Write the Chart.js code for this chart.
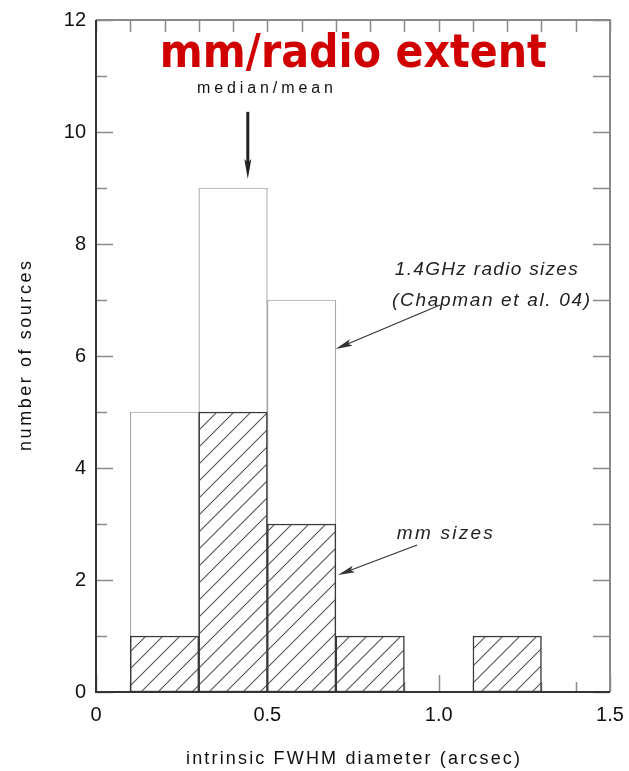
<!DOCTYPE html>
<html>
<head>
<meta charset="utf-8">
<script src="https://cdn.jsdelivr.net/npm/chart.js@4.4.1/dist/chart.umd.min.js"></script>
<style>
  html, body { margin: 0; padding: 0; background: #ffffff; }
  #wrap { width: 629px; height: 771px; }
</style>
</head>
<body>
<div id="wrap"><canvas id="c" width="629" height="771"></canvas></div>
<script>
// ---- data ----
const radioBinCenters = [0.2, 0.4, 0.6];
const radioCounts = [5, 9, 7];
const mmBinCenters = [0.2, 0.4, 0.6, 0.8, 1.2];
const mmCounts = [1, 5, 3, 1, 1];
const xTickValues = [0, 0.5, 1.0, 1.5];
const yTickValues = [0, 2, 4, 6, 8, 10, 12];
const medianValue = 0.443;

const titleText = 'mm/radio extent';
const xTitle = 'intrinsic FWHM diameter (arcsec)';
const yTitle = 'number of sources';
const radioLabel = ['1.4GHz radio sizes', '(Chapman et al. 04)'];
const mmLabel = 'mm sizes';

function makeHatch() {
  const s = 17;
  const c = document.createElement('canvas');
  c.width = s; c.height = s;
  const g = c.getContext('2d');
  g.fillStyle = '#ffffff';
  g.fillRect(0, 0, s, s);
  g.strokeStyle = '#555555';
  g.lineWidth = 1.1;
  g.beginPath();
  g.moveTo(-2, s + 2); g.lineTo(s + 2, -2);
  g.moveTo(-2, 2); g.lineTo(2, -2);
  g.moveTo(s - 2, s + 2); g.lineTo(s + 2, s - 2);
  g.stroke();
  return g.createPattern(c, 'repeat');
}

function fitText(ctx, text, x, y, width, font, align) {
  ctx.save();
  ctx.font = font;
  ctx.letterSpacing = '0px';
  const w = ctx.measureText(text).width;
  const n = Math.max(1, text.length - 1);
  const ls = (width - w) / n;
  ctx.letterSpacing = ls.toFixed(2) + 'px';
  let sx = x;
  if (align === 'center') sx = x - width / 2;
  ctx.textAlign = 'left';
  ctx.fillText(text, sx, y);
  ctx.restore();
}

function arrow(ctx, x1, y1, x2, y2, lw, headLen, headW, color) {
  const ang = Math.atan2(y2 - y1, x2 - x1);
  ctx.save();
  ctx.strokeStyle = color; ctx.fillStyle = color; ctx.lineWidth = lw;
  ctx.beginPath();
  ctx.moveTo(x1, y1);
  ctx.lineTo(x2 - Math.cos(ang) * headLen * 0.5, y2 - Math.sin(ang) * headLen * 0.5);
  ctx.stroke();
  ctx.translate(x2, y2); ctx.rotate(ang);
  ctx.beginPath();
  ctx.moveTo(0, 0);
  ctx.lineTo(-headLen, -headW / 2);
  ctx.lineTo(-headLen * 0.8, 0);
  ctx.lineTo(-headLen, headW / 2);
  ctx.closePath();
  ctx.fill();
  ctx.restore();
}

const ticksPlugin = {
  id: 'ticksPlugin',
  beforeDatasetsDraw(chart) {
    const ctx = chart.ctx, xs = chart.scales.x, ys = chart.scales.y, a = chart.chartArea;
    ctx.save();
    ctx.strokeStyle = '#8a8a8a';
    ctx.lineWidth = 1.5;
    ctx.beginPath();
    for (let i = 0; i <= 12; i++) {
      const py = Math.round(ys.getPixelForValue(i)) + 0.5;
      const lenL = (i % 2 === 0) ? 17 : 11;
      ctx.moveTo(a.left, py); ctx.lineTo(a.left + lenL, py);
      ctx.moveTo(a.right, py); ctx.lineTo(a.right - 17, py);
    }
    for (let i = 0; i <= 15; i++) {
      const px = Math.round(xs.getPixelForValue(i / 10)) + 0.5;
      const lenB = (i % 5 === 0) ? 17 : 10;
      ctx.moveTo(px, a.bottom); ctx.lineTo(px, a.bottom - lenB);
      ctx.moveTo(px, a.top); ctx.lineTo(px, a.top + 12);
    }
    ctx.stroke();
    ctx.restore();
  },
  afterDatasetsDraw(chart) {
    const ctx = chart.ctx, xs = chart.scales.x, ys = chart.scales.y, a = chart.chartArea;
    const X = v => xs.getPixelForValue(v), Y = v => ys.getPixelForValue(v);
    ctx.save();
    // frame: top/right gray, left/bottom dark
    ctx.lineWidth = 2;
    ctx.strokeStyle = '#8a8a8a';
    ctx.beginPath();
    ctx.moveTo(a.left, a.top); ctx.lineTo(a.right, a.top); ctx.lineTo(a.right, a.bottom);
    ctx.stroke();
    ctx.strokeStyle = '#333333';
    ctx.beginPath();
    ctx.moveTo(a.left, a.top); ctx.lineTo(a.left, a.bottom); ctx.lineTo(a.right, a.bottom);
    ctx.stroke();

    // title
    ctx.fillStyle = '#d00000';
    ctx.textBaseline = 'alphabetic';
    ctx.save();
    ctx.font = 'bold 46px "DejaVu Sans"';
    const tw = ctx.measureText(titleText).width;
    const targetW = 387;
    const cx = X(0.751), by = Y(11.16);
    ctx.translate(cx, by);
    ctx.scale(targetW / tw, 1);
    ctx.textAlign = 'center';
    ctx.fillText(titleText, 0, 0);
    ctx.restore();

    // median/mean
    ctx.fillStyle = '#111111';
    fitText(ctx, 'median/mean', X(0.493), Y(10.70), 136, '16px "Liberation Sans"', 'center');
    arrow(ctx, X(medianValue), Y(10.36), X(medianValue), Y(9.16), 3, 20, 7, '#222222');

    // radio label
    ctx.fillStyle = '#222222';
    fitText(ctx, radioLabel[0], X(0.872), Y(7.45), 183, 'italic 19px "Liberation Sans"', 'left');
    fitText(ctx, radioLabel[1], X(0.864), Y(6.89), 198, 'italic 19px "Liberation Sans"', 'left');
    arrow(ctx, X(1.004), Y(6.91), X(0.699), Y(6.125), 1.2, 17, 7, '#333333');

    // mm label
    fitText(ctx, mmLabel, X(0.878), Y(2.73), 96, 'italic 19px "Liberation Sans"', 'left');
    arrow(ctx, X(0.937), Y(2.625), X(0.706), Y(2.09), 1.2, 17, 7, '#333333');

    // axis titles
    ctx.fillStyle = '#111111';
    fitText(ctx, xTitle, 353, 764, 334, '18px "Liberation Sans"', 'center');
    ctx.save();
    ctx.translate(31, (a.top + a.bottom) / 2);
    ctx.rotate(-Math.PI / 2);
    fitText(ctx, yTitle, 0, 0, 190, '18px "Liberation Sans"', 'center');
    ctx.restore();
    ctx.restore();
  }
};

const hatch = makeHatch();

new Chart(document.getElementById('c'), {
  type: 'bar',
  data: {
    datasets: [
      {
        label: 'mm sizes',
        data: mmBinCenters.map((x, i) => ({ x: x, y: mmCounts[i] })),
        backgroundColor: hatch,
        borderColor: '#3a3a3a',
        borderWidth: 1.5,
        borderSkipped: false,
        barPercentage: 1,
        categoryPercentage: 1,
        grouped: false,
        order: 1
      },
      {
        label: '1.4GHz radio sizes',
        data: radioBinCenters.map((x, i) => ({ x: x, y: radioCounts[i] })),
        backgroundColor: '#ffffff',
        borderColor: '#a8a8a8',
        borderWidth: 1.2,
        borderSkipped: false,
        barPercentage: 1,
        categoryPercentage: 1,
        grouped: false,
        order: 2
      }
    ]
  },
  options: {
    responsive: false,
    animation: false,
    events: [],
    layout: { autoPadding: false, padding: { top: 20, right: 19, left: 0, bottom: 0 } },
    plugins: { legend: { display: false }, tooltip: { enabled: false } },
    scales: {
      x: {
        type: 'linear',
        min: 0, max: 1.5,
        offset: false,
        grid: { display: false, drawTicks: false, tickLength: 0 },
        border: { display: false },
        afterFit(scale) {
          scale.height = 79;
          scale.paddingLeft = 0; scale.paddingRight = 0;
          scale.paddingTop = 0; scale.paddingBottom = 0;
        },
        afterBuildTicks(scale) { scale.ticks = xTickValues.map(v => ({ value: v })); },
        ticks: {
          padding: 11,
          color: '#111111',
          font: { family: '"Liberation Sans"', size: 20 },
          maxRotation: 0,
          autoSkip: false,
          callback: v => (v === 0 ? '0' : Number(v).toFixed(1))
        }
      },
      y: {
        type: 'linear',
        min: 0, max: 12,
        grid: { display: false, drawTicks: false, tickLength: 0 },
        border: { display: false },
        afterFit(scale) {
          scale.width = 96;
          scale.paddingLeft = 0; scale.paddingRight = 0;
          scale.paddingTop = 0; scale.paddingBottom = 0;
        },
        afterBuildTicks(scale) { scale.ticks = yTickValues.map(v => ({ value: v })); },
        ticks: {
          padding: 10,
          color: '#111111',
          font: { family: '"Liberation Sans"', size: 20 },
          autoSkip: false
        }
      }
    }
  },
  plugins: [ticksPlugin]
});
</script>
</body>
</html>
